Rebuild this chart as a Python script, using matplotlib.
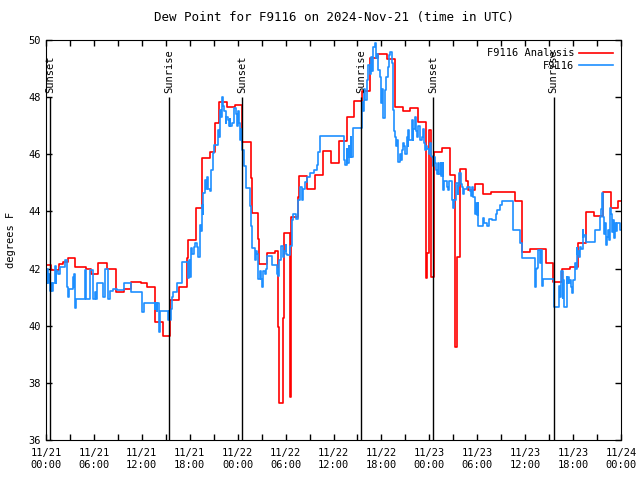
import matplotlib
matplotlib.use("Agg")
import matplotlib.pyplot as plt

# hours since 2024-11-21 00:00 UTC
red_hours = [0.0, 0.6, 1.67, 2.17, 2.75, 3.67, 4.97, 5.67, 6.55, 7.67, 8.73, 9.77, 10.68, 11.86,
             12.61, 13.65, 14.61, 15.53, 16.65, 17.62, 17.74, 18.74, 19.53, 20.53, 21.16, 21.7,
             22.62, 23.66, 24.58, 25.63, 25.76, 26.6, 26.71, 27.71, 28.67, 29.1, 29.21, 29.64,
             29.76, 30.59, 30.66, 30.72, 31.55, 31.68, 32.62, 33.68, 34.73, 35.65, 36.7, 37.66,
             38.6, 39.6, 40.6, 41.52, 42.65, 43.7, 44.74, 45.58, 46.62, 47.55, 47.7, 48.0, 48.17,
             48.6, 49.6, 50.62, 51.24, 51.5, 51.84, 52.6, 52.8, 53.72, 54.76, 55.68, 58.73, 59.56,
             60.6, 62.61, 63.52, 64.58, 65.62, 66.66, 67.62, 68.62, 69.7, 70.7, 71.66, 72.0]
red_dewpt = [42.12, 41.95, 42.16, 42.24, 42.36, 42.04, 41.97, 41.81, 42.18, 41.97, 41.17, 41.28,
             41.54, 41.50, 41.37, 40.14, 39.65, 40.9, 41.37, 42.36, 43.0, 44.11, 45.86, 46.09,
             47.08, 47.84, 47.67, 47.72, 46.42, 45.16, 43.93, 43.02, 42.15, 42.56, 42.61, 39.97,
             37.28, 40.26, 43.23, 37.52, 41.6, 43.82, 44.52, 45.24, 44.77, 45.27, 46.13, 45.71,
             46.47, 47.29, 47.85, 48.2, 49.36, 49.51, 49.32, 47.67, 47.53, 47.61, 47.14, 41.66,
             42.54, 46.85, 41.72, 46.09, 46.21, 45.27, 39.24, 42.39, 45.47, 45.08, 44.75, 44.96,
             44.61, 44.69, 44.36, 42.59, 42.70, 42.21, 41.52, 41.97, 42.04, 42.88, 43.97, 43.84,
             44.67, 44.11, 44.36, 44.36]

obs_hours = [0.0, 0.1, 0.2, 0.35, 0.5, 0.6, 0.7, 0.85, 1.1, 1.2, 1.3, 1.5, 1.75, 2.38, 2.67, 2.75,
             2.85, 3.42, 3.5, 3.55, 3.63, 3.72, 4.93, 5.05, 5.51, 5.93, 6.14, 6.25, 6.43, 7.09,
             7.43, 7.8, 8.01, 8.43, 8.93, 9.77, 10.68, 12.06, 12.27, 13.6, 13.7, 13.85, 13.95,
             14.19, 14.27, 15.32, 15.42, 15.5, 15.6, 15.74, 15.94,
             16.37, 16.99, 17.05, 17.74, 17.85, 18.0, 18.16, 18.3, 18.5, 18.7, 18.87, 19.08,
             19.28, 19.4, 19.49, 19.6, 19.7, 19.91, 20.0, 20.1, 20.24, 20.5, 20.66, 20.87, 21.08,
             21.5, 21.6, 21.79, 21.9, 22.0, 22.2, 22.35, 22.5, 22.6, 22.75, 22.9, 23.0, 23.1,
             23.25, 23.58, 23.75, 23.9, 24.0, 24.17, 24.29, 24.45, 24.58, 24.79, 25.04, 25.54,
             25.65, 25.76, 26.17, 26.3, 26.38, 26.59, 26.85, 26.95, 27.1, 27.21, 27.42, 27.55,
             27.71, 28.26, 28.89, 29.0, 29.1, 29.21, 29.39, 29.72, 29.85, 30.01, 30.1, 30.18,
             30.55, 30.76, 30.97, 31.3, 31.59, 31.81, 32.01, 32.22, 32.43, 32.72, 33.06, 33.56,
             33.9, 34.1, 34.31, 37.32, 37.45, 37.65, 37.75, 37.9, 38.0, 38.15, 38.25, 38.4, 38.48,
             39.53, 39.7, 39.85, 40.0, 40.2, 40.36, 40.57, 40.7, 40.85, 40.99, 41.2, 41.28, 41.45,
             41.61, 41.8, 41.95, 42.05, 42.24, 42.45, 42.6, 42.79, 42.95, 43.08, 43.29, 43.4,
             43.49, 43.6, 43.7, 43.8, 43.91, 44.05, 44.12, 44.3, 44.45, 44.54, 44.7, 44.87, 45.0,
             45.17, 45.3, 45.37, 45.5, 45.79, 45.9, 46.0, 46.21, 46.3, 46.42, 46.6, 46.83,
             47.04, 47.2, 47.3, 47.46, 47.6, 47.75, 47.9, 48.08, 48.2, 48.3, 48.45, 48.59, 48.7,
             48.84, 49.0, 49.13, 49.26, 49.4, 49.5, 49.67, 49.75, 49.84, 50.17, 50.3, 50.51,
             50.8, 51.01, 51.15, 51.3, 51.55, 51.65, 51.76, 51.93, 52.05, 52.18, 52.38, 52.68,
             53.09, 53.2, 53.3, 53.51, 53.72, 53.8, 53.93, 54.05, 54.14, 54.68, 54.89, 55.18,
             55.51, 55.81, 56.35, 56.43, 56.85, 57.06, 58.52, 59.35, 59.57, 61.23, 61.35, 61.45,
             61.65, 61.86, 61.95, 62.07, 62.15, 62.19, 63.55, 64.28, 64.35, 64.45, 64.7, 64.78,
             64.86, 65.2, 65.3, 65.4, 65.5, 65.61, 65.7, 65.82, 65.95, 66.03, 66.24, 66.35,
             66.45, 66.55, 66.65, 66.8, 66.87, 67.0, 67.2, 67.3, 67.41, 67.62, 68.74, 69.37,
             69.5, 69.58, 69.7, 69.79, 69.9, 70.0, 70.12, 70.3, 70.41, 70.5, 70.62, 70.75, 70.84,
             71.0, 71.12, 71.25, 71.4, 71.54, 71.87, 72.0]
obs_dewpt = [41.5, 42.0, 41.5, 41.8, 41.2, 41.5, 41.2, 41.5, 42.1, 41.5, 41.9, 41.8, 42.07, 42.3,
             41.37, 41.0, 41.3, 41.7, 41.37, 41.8, 40.61, 40.92, 41.95, 40.92, 41.95, 40.92,
             41.19, 40.92, 41.48, 41.0, 41.97, 40.92, 41.2, 41.3, 41.25, 41.51, 41.19, 40.49,
             40.81, 40.6, 40.81, 40.5, 40.81, 39.79, 40.53, 40.2, 40.5, 40.2, 40.6, 41.0, 41.19,
             41.51, 41.97, 42.24, 41.66, 42.3, 41.7, 42.72, 42.5, 42.77, 42.9, 42.77, 42.42,
             43.52, 43.3, 44.22, 43.9, 44.63, 45.1, 44.8, 45.2, 44.8, 44.7, 45.45, 46.03, 46.33,
             46.85, 46.6, 47.55, 47.3, 47.99, 47.7, 47.5, 47.08, 47.3, 47.2, 47.0, 47.25, 47.0,
             47.08, 47.62, 47.4, 47.0, 47.5, 47.08, 46.5, 46.9, 46.15, 45.6, 44.82, 44.2,
             43.5, 42.73, 42.3, 42.6, 42.5, 41.63, 41.9, 41.63, 41.37, 41.9, 41.8, 42.0,
             42.44, 42.12, 41.81, 42.0, 41.75, 42.3, 42.79, 42.4, 42.6, 42.82, 42.5, 42.47,
             42.8, 43.7, 43.9, 43.75, 44.4, 44.87, 44.4, 44.8, 45.04, 45.22, 45.33, 45.45,
             45.63, 46.09, 46.64, 45.8, 45.63, 46.2, 45.7, 46.3, 45.9, 46.6, 45.92, 46.5, 46.91,
             47.84, 47.5, 48.3, 47.9, 48.6, 49.12, 48.8, 49.4, 48.9, 49.74, 49.91, 49.36, 49.5,
             48.95, 48.7, 47.78, 48.3, 47.26, 48.25, 48.72, 49.07, 49.47, 49.59, 49.2, 48.8,
             47.55, 46.8, 46.62, 46.3, 46.5, 46.2, 45.74, 46.0, 45.8, 46.15, 46.4, 46.3, 46.0,
             46.62, 46.3, 46.85, 46.5, 47.2, 46.5, 46.9, 47.32, 46.8, 46.6, 47.0, 46.5,
             46.6, 46.9, 46.4, 46.15, 46.3, 46.2, 46.0, 46.38, 45.95, 45.92, 45.6, 45.9, 45.7,
             45.45, 45.3, 45.68, 45.3, 45.68, 45.25, 45.68, 44.75, 45.08, 44.87, 44.75, 45.05,
             44.4, 44.11, 44.4, 45.0, 44.6, 44.9, 45.33, 44.95, 44.87, 44.61, 44.8, 44.87,
             44.7, 44.55, 44.87, 44.5, 43.9, 44.3, 43.87, 44.3, 43.49, 43.76, 43.6, 43.49,
             43.74, 43.7, 43.9, 44.05, 44.22, 44.38, 43.35, 42.88, 42.38, 41.37, 42.0, 42.01,
             42.65, 42.2, 42.65, 41.66, 41.4, 41.64, 40.66, 41.4, 41.0, 41.93, 40.96, 41.6,
             40.64, 41.7, 41.5, 41.72, 41.5, 41.6, 41.35, 41.16, 41.4, 41.6, 42.21, 42.0,
             42.71, 42.5, 42.62, 42.4, 42.77, 42.7, 43.35, 43.1, 43.17, 42.94, 43.35, 43.82,
             44.1, 44.63, 44.3, 43.8, 43.2, 43.6, 42.82, 43.1, 43.35, 43.0, 44.11, 43.9, 43.29,
             43.7, 43.06, 43.58, 43.3, 43.61, 43.35, 43.35]

sun_hours = [0.54, 15.44, 24.56, 39.5, 48.5, 63.55]
sun_labels = ["Sunset", "Sunrise", "Sunset", "Sunrise", "Sunset", "Sunrise"]

tick_hours = list(range(0, 73, 6))
tick_labels = ["11/%d\n%02d:00" % (21 + h // 24, h % 24) for h in tick_hours]

plt.rcParams['font.family'] = ['DejaVu Sans Mono']
plt.rcParams['font.size'] = 7.5

fig = plt.figure(figsize=(6.4, 4.8), dpi=100)
ax = fig.add_axes([46 / 640, 40 / 480, 575 / 640, 400 / 480])

ax.step(red_hours, red_dewpt, where='post', color='#ff0000', lw=1.2, label='F9116 Analysis')
ax.step(obs_hours, obs_dewpt, where='post', color='#1e8fff', lw=1.2, label='F9116')

ax.vlines(sun_hours, 36, 48.0, color='k', lw=1)
for h, s in zip(sun_hours, sun_labels):
    ax.text(h, 48.15, s, rotation=90, ha='center', va='bottom')

ax.set_xlim(0, 72)
ax.set_ylim(36, 50)
ax.set_xticks(tick_hours)
ax.set_xticklabels(tick_labels)
ax.set_xticks(range(0, 73, 3), minor=True)
ax.set_yticks(range(36, 51, 2))
ax.tick_params(which='both', direction='in', top=True, right=True, length=4, width=1)
ax.tick_params(axis='x', pad=6)

ax.set_ylabel('degrees F', labelpad=9)
ax.set_title('Dew Point for F9116 on 2024-Nov-21 (time in UTC)', pad=14)

ax.legend(loc='upper right', frameon=False, markerfirst=False, handlelength=3.2,
          borderaxespad=0.4, labelspacing=0.25, handletextpad=0.5)

fig.savefig('out.png', dpi=100)
